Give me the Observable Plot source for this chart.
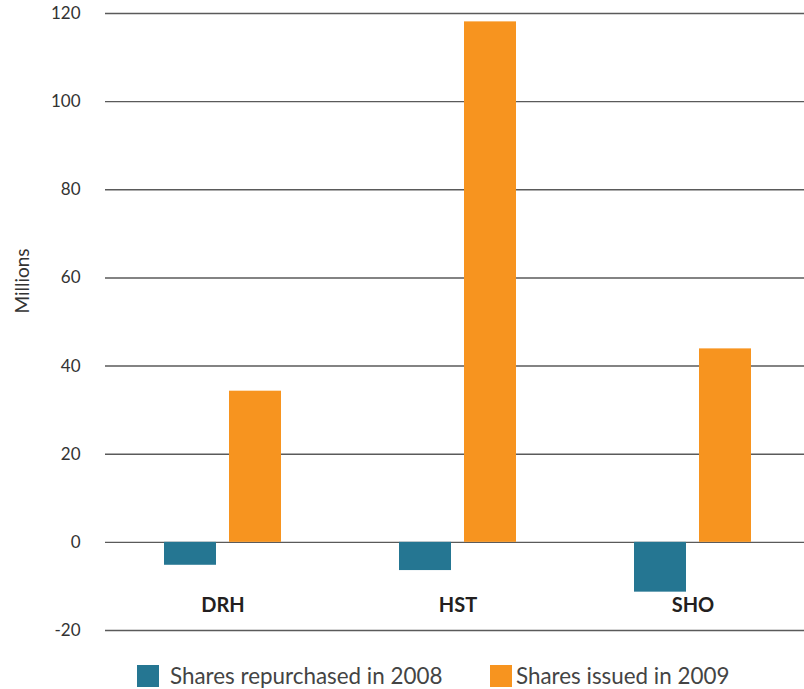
<!DOCTYPE html>
<html>
<head>
<meta charset="utf-8">
<script src="https://cdn.jsdelivr.net/npm/d3@7"></script>
<script src="https://cdn.jsdelivr.net/npm/@observablehq/plot@0.6"></script>
<style>
  body { margin: 0; background: #fff; font-family: Lato, "Open Sans", sans-serif; }
  #wrap { position: relative; width: 804px; height: 689px; }
  #chart { width: 804px; }
  .ylabel { position: absolute; left: 21px; top: 281px; transform: translate(-50%, -50%) rotate(-90deg); font-family: Lato, sans-serif; font-size: 19px; color: #333; white-space: nowrap; }
  .legend .item { display: flex; align-items: center; position: absolute; font-family: Lato, sans-serif; font-size: 22.4px; color: #444; }
  .legend .sw { width: 22px; height: 22px; }
</style>
</head>
<body>
<div id="wrap"><div id="chart"></div></div>
<script>
const categories = ["DRH", "HST", "SHO"];
const seriesNames = ["Shares repurchased in 2008", "Shares issued in 2009"];
const repurchased2008 = [-5.2, -6.4, -11.3];
const issued2009 = [34.3, 118.1, 43.9];
const yTicks = [-20, 0, 20, 40, 60, 80, 100, 120];
const yLabel = "Millions";
const colors = ["#257692", "#F7941F"];

const rows = [];
categories.forEach((c, i) => {
  rows.push({category: c, series: seriesNames[0], value: repurchased2008[i]});
  rows.push({category: c, series: seriesNames[1], value: issued2009[i]});
});

const plot = Plot.plot({
  width: 804,
  height: 645,
  marginLeft: 104,
  marginRight: 0,
  marginTop: 13,
  marginBottom: 15,
  style: {fontFamily: "Lato, sans-serif", fontSize: "17px", color: "#333", background: "#fff"},
  fx: {domain: categories, range: [104, 810], padding: 0, axis: null},
  x: {domain: seriesNames, paddingInner: 0.197, paddingOuter: 0.879, align: 0.5, axis: null},
  y: {domain: [-20, 120], ticks: yTicks, tickSize: 0, tickPadding: 25, tickFormat: d => String(d), label: null},
  color: {domain: seriesNames, range: colors},
  marks: [
    Plot.ruleY(yTicks, {stroke: "#5a5a5a", strokeWidth: 1.4}),
    Plot.barY(rows, {fx: "category", x: "series", y: "value", fill: "series"}),
    Plot.text(categories, {fx: d => d, text: d => d, frameAnchor: "bottom", dy: -25, fontWeight: 700, fontSize: 20, fill: "#231f20", lineAnchor: "middle"})
  ]
});
document.getElementById("chart").appendChild(plot);

const wrap = d3.select("#wrap");
wrap.append("div").attr("class", "ylabel").text(yLabel);
const legend = wrap.append("div").attr("class", "legend");
const lx = [137, 490];
seriesNames.forEach((s, i) => {
  const it = legend.append("div").attr("class", "item").style("left", lx[i] + "px").style("top", "662px");
  it.append("div").attr("class", "sw").style("background", colors[i]).style("margin-right", i === 0 ? "11px" : "4px");
  it.append("span").text(s);
});
</script>
</body>
</html>
